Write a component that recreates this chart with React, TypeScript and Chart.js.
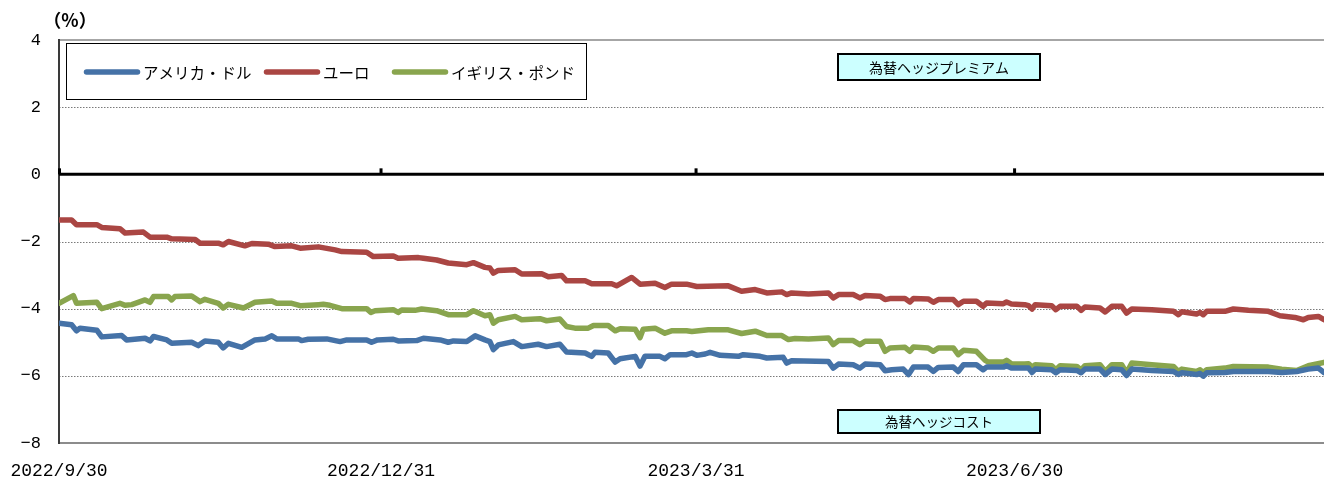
import React, { useEffect, useRef } from "react";
import { Chart, registerables } from "chart.js";

Chart.register(...registerables);

// ---- data (x = days since 2022/9/30, y = %) ----
const seriesLabels = ["アメリカ・ドル", "ユーロ", "イギリス・ポンド"];
const seriesColors = ["#4572A7", "#AA4643", "#89A54E"];

const usdSeries: [number, number][] = [
  [0, -4.43], [3.6, -4.48], [5.0, -4.66], [6.0, -4.58], [10.8, -4.64], [12.2, -4.84], [17.9, -4.8], [19.3, -4.93],
  [24.6, -4.88], [26.0, -4.96], [27.0, -4.83], [30.8, -4.93], [32.2, -5.03], [37.9, -5.0], [39.8, -5.1], [41.7, -4.96],
  [45.5, -5.0], [46.9, -5.17], [48.4, -5.03], [52.2, -5.15], [56.0, -4.93], [58.9, -4.9], [60.8, -4.81], [62.2, -4.9],
  [68.4, -4.9], [69.3, -4.95], [71.2, -4.91], [76.5, -4.9], [80.3, -4.98], [82.2, -4.93], [87.9, -4.93], [89.3, -5.0],
  [91.0, -4.93], [95.5, -4.91], [96.9, -4.96], [102.2, -4.95], [104.1, -4.88], [108.9, -4.93], [111.2, -5.0], [112.7, -4.96],
  [116.5, -4.98], [118.9, -4.81], [121.7, -4.93], [123.1, -4.98], [124.1, -5.22], [125.5, -5.08], [129.8, -4.98], [132.2, -5.13],
  [136.9, -5.06], [139.3, -5.13], [143.1, -5.06], [145.0, -5.29], [150.3, -5.32], [152.2, -5.42], [153.1, -5.3], [156.9, -5.32],
  [158.9, -5.59], [160.3, -5.49], [164.6, -5.42], [166.0, -5.71], [167.4, -5.42], [171.7, -5.42], [173.1, -5.49], [174.6, -5.37],
  [179.3, -5.37], [180.8, -5.32], [182.2, -5.39], [184.6, -5.35], [186.0, -5.3], [188.9, -5.39], [194.1, -5.42], [195.5, -5.37],
  [200.3, -5.42], [202.2, -5.47], [206.9, -5.45], [207.9, -5.62], [209.3, -5.55], [219.8, -5.57], [221.2, -5.77], [222.7, -5.65],
  [226.9, -5.67], [228.8, -5.77], [230.3, -5.65], [234.6, -5.67], [236.0, -5.85], [237.9, -5.82], [241.2, -5.8], [242.7, -5.96],
  [244.1, -5.74], [248.3, -5.74], [249.8, -5.87], [251.2, -5.75], [255.5, -5.74], [256.9, -5.87], [258.4, -5.67], [262.1, -5.67],
  [264.0, -5.82], [265.0, -5.74], [269.8, -5.74], [270.7, -5.7], [272.1, -5.77], [275.9, -5.77], [277.0, -5.77], [278.0, -5.9],
  [278.9, -5.8], [283.6, -5.82], [284.8, -5.91], [286.0, -5.82], [290.8, -5.84], [292.0, -5.91], [293.1, -5.8], [297.4, -5.8],
  [298.9, -5.96], [300.8, -5.8], [303.6, -5.82], [305.0, -5.99], [306.5, -5.8], [312.2, -5.84], [318.4, -5.87], [319.8, -5.96],
  [320.8, -5.91], [325.0, -5.96], [326.0, -5.93], [326.9, -6.01], [327.9, -5.91], [333.1, -5.9], [335.5, -5.87], [345.5, -5.87],
  [349.3, -5.9], [353.6, -5.87], [356.9, -5.8], [359.8, -5.77], [361.4, -5.9],
];

const eurSeries: [number, number][] = [
  [0, -1.36], [3.6, -1.36], [5.0, -1.5], [10.8, -1.5], [12.2, -1.58], [17.4, -1.62], [18.9, -1.75], [24.1, -1.72],
  [26.0, -1.87], [30.8, -1.87], [32.2, -1.92], [38.9, -1.94], [40.3, -2.05], [45.5, -2.05], [46.9, -2.1], [48.4, -2.0],
  [53.1, -2.13], [55.1, -2.06], [59.8, -2.08], [61.7, -2.15], [66.5, -2.13], [68.9, -2.2], [74.1, -2.16], [78.9, -2.25],
  [80.8, -2.3], [87.9, -2.32], [89.8, -2.45], [95.5, -2.43], [96.9, -2.5], [102.7, -2.48], [104.1, -2.5], [107.9, -2.55],
  [111.2, -2.64], [116.5, -2.69], [118.4, -2.63], [121.7, -2.77], [123.1, -2.79], [124.1, -2.94], [125.5, -2.86], [130.3, -2.84],
  [132.2, -2.97], [137.9, -2.96], [139.8, -3.05], [143.6, -3.01], [145.0, -3.17], [150.3, -3.17], [152.2, -3.26], [157.9, -3.26],
  [159.3, -3.32], [163.6, -3.07], [166.0, -3.27], [170.3, -3.24], [173.1, -3.37], [175.0, -3.27], [179.3, -3.27], [182.2, -3.34],
  [191.2, -3.32], [195.0, -3.48], [198.9, -3.43], [202.2, -3.53], [206.5, -3.5], [207.9, -3.58], [209.3, -3.53], [214.1, -3.56],
  [219.8, -3.53], [221.2, -3.68], [222.7, -3.58], [226.9, -3.58], [228.8, -3.68], [230.3, -3.61], [234.6, -3.63], [236.0, -3.73],
  [237.4, -3.7], [241.7, -3.7], [243.1, -3.8], [244.1, -3.7], [248.3, -3.71], [249.8, -3.81], [251.2, -3.73], [255.5, -3.73],
  [256.9, -3.88], [258.4, -3.78], [262.1, -3.78], [264.0, -3.93], [265.0, -3.83], [269.8, -3.85], [270.7, -3.8], [272.1, -3.86],
  [275.9, -3.88], [277.0, -3.91], [278.0, -4.01], [278.9, -3.88], [283.6, -3.91], [284.8, -4.03], [286.0, -3.93], [290.8, -3.93],
  [292.0, -4.05], [293.1, -3.95], [297.4, -3.98], [298.9, -4.1], [300.8, -3.93], [303.6, -3.93], [305.0, -4.13], [306.5, -4.01],
  [312.2, -4.03], [318.4, -4.08], [319.8, -4.18], [320.8, -4.09], [325.0, -4.16], [326.0, -4.11], [326.9, -4.18], [327.9, -4.08],
  [333.1, -4.08], [335.5, -4.01], [339.8, -4.05], [345.5, -4.08], [348.8, -4.21], [353.1, -4.26], [355.5, -4.33], [356.9, -4.26],
  [359.8, -4.23], [361.4, -4.33],
];

const gbpSeries: [number, number][] = [
  [0, -3.84], [4.1, -3.61], [5.0, -3.84], [10.8, -3.81], [12.2, -4.0], [17.4, -3.84], [18.9, -3.9], [20.8, -3.88],
  [24.6, -3.74], [26.0, -3.81], [27.0, -3.64], [31.2, -3.64], [32.2, -3.74], [33.1, -3.64], [37.9, -3.62], [40.3, -3.79],
  [41.7, -3.72], [45.5, -3.84], [46.9, -3.98], [48.4, -3.87], [52.7, -3.98], [56.0, -3.81], [60.8, -3.77], [62.2, -3.84],
  [66.5, -3.84], [68.9, -3.91], [74.1, -3.88], [75.5, -3.87], [77.4, -3.9], [80.8, -4.0], [87.9, -4.0], [89.1, -4.11],
  [90.3, -4.06], [95.5, -4.03], [96.9, -4.11], [97.9, -4.04], [101.7, -4.05], [103.6, -4.01], [107.9, -4.06], [111.2, -4.18],
  [116.5, -4.18], [118.4, -4.06], [121.7, -4.21], [123.1, -4.18], [124.1, -4.43], [125.5, -4.33], [130.3, -4.23], [132.2, -4.33],
  [137.4, -4.3], [139.3, -4.36], [143.1, -4.31], [145.0, -4.53], [147.4, -4.58], [151.2, -4.58], [152.7, -4.5], [156.9, -4.5],
  [158.9, -4.66], [160.3, -4.6], [164.6, -4.61], [166.0, -4.86], [166.9, -4.61], [170.3, -4.58], [173.1, -4.73], [175.0, -4.66],
  [179.3, -4.66], [180.8, -4.68], [185.5, -4.63], [191.2, -4.63], [195.0, -4.74], [198.9, -4.67], [202.2, -4.8], [206.5, -4.8],
  [208.4, -4.92], [210.3, -4.89], [214.1, -4.9], [219.8, -4.87], [221.2, -5.07], [222.7, -4.95], [226.9, -4.95], [228.8, -5.07],
  [230.3, -4.97], [234.6, -4.97], [236.0, -5.27], [237.4, -5.17], [241.7, -5.15], [243.1, -5.27], [244.1, -5.14], [248.3, -5.17],
  [249.8, -5.27], [251.2, -5.17], [255.5, -5.17], [256.9, -5.37], [258.4, -5.24], [262.1, -5.27], [264.6, -5.54], [265.5, -5.59],
  [269.8, -5.59], [270.7, -5.54], [272.1, -5.64], [275.9, -5.65], [277.0, -5.64], [278.0, -5.74], [278.9, -5.67], [283.6, -5.7],
  [284.8, -5.82], [286.0, -5.7], [290.8, -5.72], [292.0, -5.82], [293.1, -5.7], [297.4, -5.67], [298.9, -5.87], [300.8, -5.67],
  [303.6, -5.67], [305.0, -5.91], [306.5, -5.62], [312.2, -5.67], [318.4, -5.72], [319.8, -5.87], [320.8, -5.8], [325.0, -5.87],
  [326.0, -5.82], [326.9, -5.9], [327.9, -5.82], [333.1, -5.77], [335.5, -5.72], [345.5, -5.74], [349.3, -5.8], [353.6, -5.84],
  [356.9, -5.7], [361.4, -5.6],
];

const xTickDays = [0, 92, 182, 273];
const xTickLabels = ["2022/9/30", "2022/12/31", "2023/3/31", "2023/6/30"];
const xMaxDay = 361.4;
const yMin = -8;
const yMax = 4;
const yStep = 2;

const unitLabel = "（%）";
const premiumLabel = "為替ヘッジプレミアム";
const costLabel = "為替ヘッジコスト";

const JP_FONT = '"Noto Sans CJK JP", "Noto Sans", sans-serif';
const NUM_FONT = '"Liberation Mono", "DejaVu Sans Mono", monospace';

const W = 1324;
const H = 479;

const decorPlugin = {
  id: "decor",
  beforeDatasetsDraw(chart: any) {
    const { ctx, chartArea: a, scales } = chart;
    const ys = scales.y;
    const xs = scales.x;
    ctx.save();
    // dotted grid lines
    for (let v = yMin + yStep; v < yMax; v += yStep) {
      if (v === 0) continue;
      const py = Math.round(ys.getPixelForValue(v)) + 0.5;
      ctx.beginPath();
      ctx.setLineDash([1.5, 1.5]);
      ctx.strokeStyle = "#7a7a7a";
      ctx.lineWidth = 1;
      ctx.moveTo(a.left, py);
      ctx.lineTo(a.right, py);
      ctx.stroke();
    }
    ctx.setLineDash([]);
    // top border
    const pTop = ys.getPixelForValue(yMax);
    ctx.strokeStyle = "#a6a6a6";
    ctx.lineWidth = 2;
    ctx.beginPath();
    ctx.moveTo(a.left, pTop);
    ctx.lineTo(a.right, pTop);
    ctx.stroke();
    // bottom axis
    const pBot = ys.getPixelForValue(yMin);
    ctx.strokeStyle = "#8c8c8c";
    ctx.lineWidth = 2;
    ctx.beginPath();
    ctx.moveTo(a.left, pBot);
    ctx.lineTo(a.right, pBot);
    ctx.stroke();
    // left axis
    ctx.strokeStyle = "#3a3a3a";
    ctx.lineWidth = 2;
    ctx.beginPath();
    ctx.moveTo(a.left, pTop - 1);
    ctx.lineTo(a.left, pBot + 1);
    ctx.stroke();
    // zero line
    const p0 = ys.getPixelForValue(0);
    ctx.strokeStyle = "#000";
    ctx.lineWidth = 3;
    ctx.beginPath();
    ctx.moveTo(a.left, p0);
    ctx.lineTo(a.right, p0);
    ctx.stroke();
    // tick marks on zero line
    ctx.fillStyle = "#000";
    xTickDays.forEach((d) => {
      const px = xs.getPixelForValue(d);
      ctx.fillRect(Math.max(a.left - 1, px - 1.5), p0 - 6, 3, 6);
    });
    // x tick labels (positions from the x scale)
    ctx.fillStyle = "#000";
    ctx.font = `18px ${NUM_FONT}`;
    ctx.textAlign = "center";
    ctx.textBaseline = "alphabetic";
    xTickDays.forEach((d, i) => {
      ctx.fillText(xTickLabels[i], xs.getPixelForValue(d), 476);
    });
    ctx.restore();
  },
  afterDatasetsDraw(chart: any) {
    const { ctx } = chart;
    ctx.save();
    // unit label
    ctx.fillStyle = "#000";
    ctx.font = `bold 18px ${JP_FONT}`;
    ctx.textAlign = "center";
    ctx.textBaseline = "middle";
    ctx.fillText(unitLabel, 70, 20);

    // legend box
    ctx.fillStyle = "#fff";
    ctx.fillRect(66, 43, 521, 57);
    ctx.strokeStyle = "#000";
    ctx.lineWidth = 1;
    ctx.strokeRect(66.5, 43.5, 520, 56);
    const itemX = [84, 264, 392];
    const cy = 72;
    chart.data.datasets.forEach((ds: any, i: number) => {
      ctx.strokeStyle = ds.borderColor;
      ctx.lineWidth = 5.5;
      ctx.lineCap = "round";
      ctx.beginPath();
      ctx.moveTo(itemX[i] + 2.5, cy);
      ctx.lineTo(itemX[i] + 53.5, cy);
      ctx.stroke();
      ctx.fillStyle = "#000";
      ctx.font = `15.5px ${JP_FONT}`;
      ctx.textAlign = "left";
      ctx.textBaseline = "middle";
      ctx.fillText(ds.label, itemX[i] + 59, cy + 1);
    });

    // annotation boxes
    const box = (x: number, y: number, w: number, h: number, text: string, size: number) => {
      ctx.fillStyle = "#CCFFFF";
      ctx.fillRect(x, y, w, h);
      ctx.strokeStyle = "#000";
      ctx.lineWidth = 2;
      ctx.strokeRect(x + 1, y + 1, w - 2, h - 2);
      ctx.fillStyle = "#000";
      ctx.font = `${size}px ${JP_FONT}`;
      ctx.textAlign = "center";
      ctx.textBaseline = "middle";
      ctx.fillText(text, x + w / 2, y + h / 2 + 0.5);
    };
    box(837, 53, 204, 28, premiumLabel, 14);
    box(837, 409, 204, 25, costLabel, 13.5);
    ctx.restore();
  },
};

export default function App() {
  const ref = useRef<HTMLCanvasElement | null>(null);

  useEffect(() => {
    if (!ref.current) return;
    const toPts = (s: [number, number][]) => s.map(([x, y]) => ({ x, y }));
    const all = [usdSeries, eurSeries, gbpSeries];
    const chart = new Chart(ref.current, {
      type: "line",
      data: {
        datasets: all.map((s, i) => ({
          label: seriesLabels[i],
          data: toPts(s),
          borderColor: seriesColors[i],
          backgroundColor: seriesColors[i],
          borderWidth: 5.5,
          pointRadius: 0,
          tension: 0,
          borderJoinStyle: "round" as const,
          borderCapStyle: "round" as const,
          fill: false,
        })),
      },
      options: {
        responsive: false,
        animation: false,
        devicePixelRatio: 1,
        layout: { padding: { top: 40, left: 0, right: 0, bottom: 0 }, autoPadding: false },
        plugins: { legend: { display: false }, tooltip: { enabled: false } },
        scales: {
          x: {
            type: "linear",
            min: 0,
            max: xMaxDay,
            grid: { display: false },
            border: { display: false },
            afterBuildTicks: (axis: any) => {
              axis.ticks = xTickDays.map((v) => ({ value: v }));
            },
            afterFit: (axis: any) => {
              axis.height = 36;
            },
            ticks: { display: false },
          },
          y: {
            min: yMin,
            max: yMax,
            grid: { display: false, drawTicks: false },
            border: { display: false },
            afterFit: (axis: any) => {
              axis.width = 59;
            },
            ticks: {
              stepSize: yStep,
              padding: 18,
              color: "#000",
              font: { family: NUM_FONT, size: 17 },
              callback: (v: any) => String(v).replace("-", "−"),
            },
          },
        },
      },
      plugins: [decorPlugin],
    });
    return () => chart.destroy();
  }, []);

  return (
    <div style={{ position: "absolute", left: 0, top: 0, width: W, height: H, background: "#fff" }}>
      <canvas ref={ref} width={W} height={H} style={{ width: W, height: H, display: "block" }} />
    </div>
  );
}
